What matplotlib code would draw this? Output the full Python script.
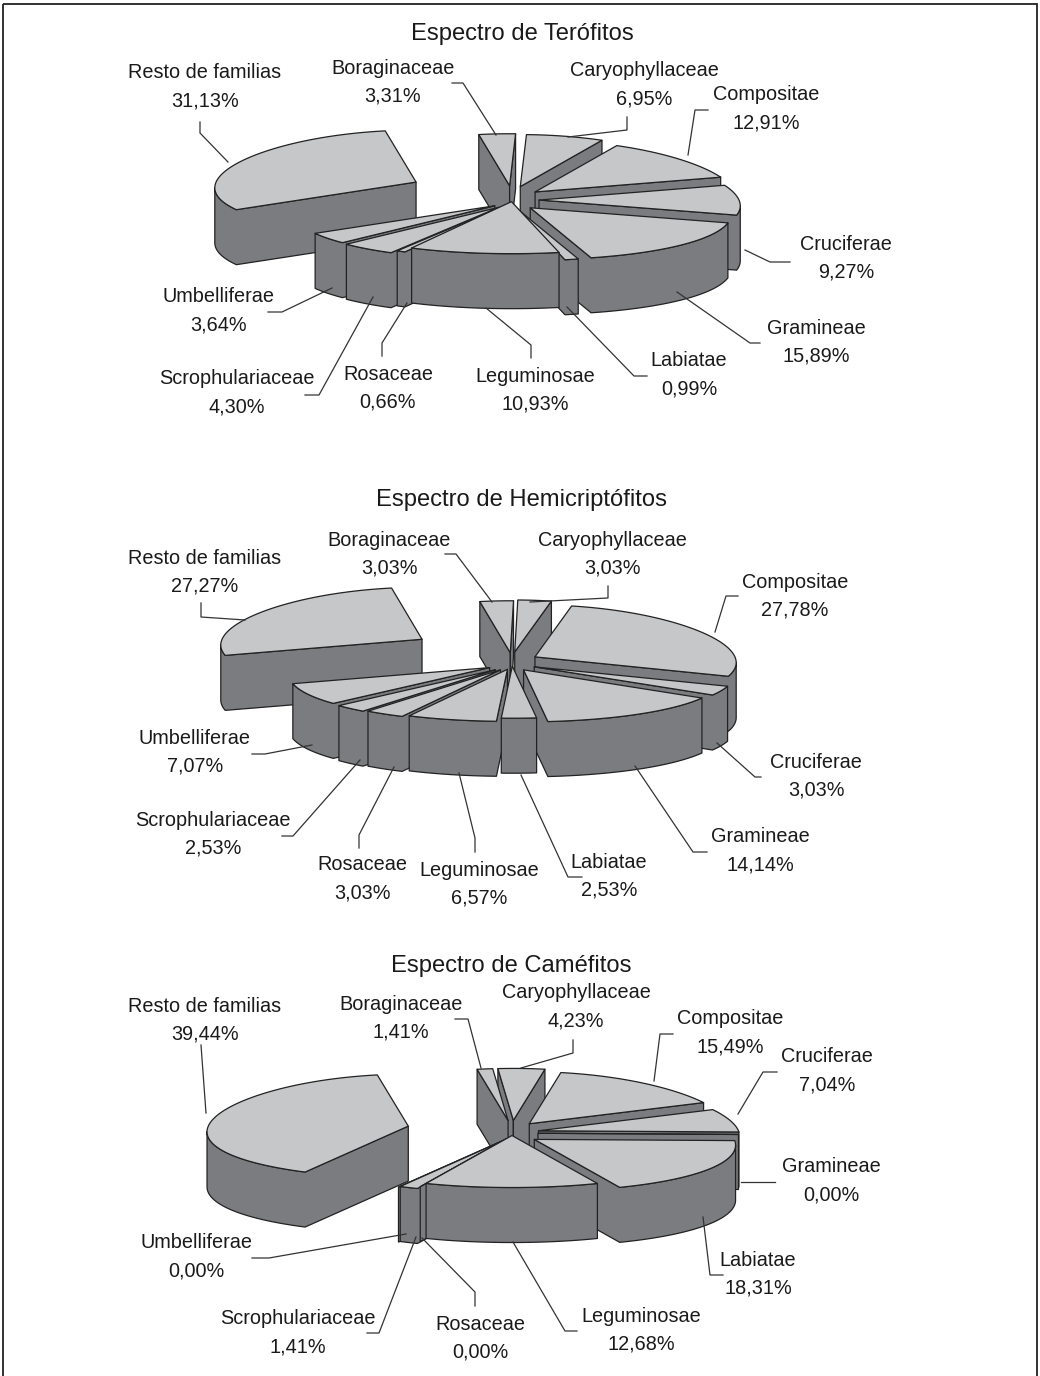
import numpy as np
import matplotlib
matplotlib.use("Agg")
import matplotlib.pyplot as plt
from matplotlib.patches import Polygon, Rectangle

plt.rcParams['font.family'] = ['Liberation Sans', 'DejaVu Sans']

# ── DATOS ────────────────────────────────────────────────────
familias = ["Caryophyllaceae", "Compositae", "Cruciferae", "Gramineae", "Labiatae",
            "Leguminosae", "Rosaceae", "Scrophulariaceae", "Umbelliferae",
            "Resto de familias", "Boraginaceae"]
terofitos = [6.95, 12.91, 9.27, 15.89, 0.99, 10.93, 0.66, 4.30, 3.64, 31.13, 3.31]
hemicript = [3.03, 27.78, 3.03, 14.14, 2.53, 6.57, 3.03, 2.53, 7.07, 27.27, 3.03]
camefitos = [4.23, 15.49, 7.04, 0.00, 18.31, 12.68, 0.00, 1.41, 0.00, 39.44, 1.41]

# ── MAQUETACION (pixeles) ────────────────────────────────────
EXPL_T = [33, 30, 27, 26, 22, 4, 15, 22, 22, 105, 34]
EXPL_H = [24, 26, 25, 22, 10, 18, 22, 25, 26, 105, 22]
EXPL_C = [30, 28, 27, 26, 27, 6, 15, 20, 22, 105, 30]

POS_T = [(644, 70), (766, 94), (846, 243), (816, 327), (689, 360), (535, 375),
         (388, 373), (237, 378), (219, 296), (205, 72), (393, 67)]
POS_H = [(612, 539), (795, 581), (816, 761), (760, 836), (609, 861), (479, 869),
         (362, 864), (213, 819), (195, 737), (205, 557), (389, 539)]
POS_C = [(576, 992), (730, 1018), (827, 1056), (831, 1166), (758, 1259), (641, 1315),
         (480, 1323), (298, 1318), (196, 1242), (205, 1005), (401, 1003)]

LEAD_T = [[(627, 117), (627, 130), (568, 137)],
          [(708, 110), (695, 110), (688, 155)],
          [(790, 262), (770, 262), (745, 250)],
          [(760, 343), (750, 343), (677, 292)],
          [(647, 376), (634, 376), (567, 307)],
          [(531, 358), (531, 345), (486, 308)],
          [(382, 356), (382, 343), (407, 303)],
          [(305, 395), (319, 395), (373, 297)],
          [(268, 312), (282, 312), (332, 288)],
          [(200, 122), (200, 133), (228, 162)],
          [(452, 83), (463, 83), (496, 135)]]
LEAD_H = [[(608, 586), (608, 598), (530, 602)],
          [(738, 596), (726, 596), (715, 632)],
          [(761, 777), (755, 777), (717, 743)],
          [(707, 852), (693, 852), (635, 766)],
          [(582, 877), (568, 877), (521, 775)],
          [(475, 852), (475, 838), (459, 773)],
          [(359, 848), (359, 835), (394, 767)],
          [(282, 836), (293, 836), (360, 760)],
          [(252, 754), (265, 754), (312, 745)],
          [(201, 603), (201, 617), (245, 620)],
          [(445, 554), (456, 554), (492, 602)]]
LEAD_C = [[(573, 1040), (573, 1053), (521, 1068)],
          [(673, 1034), (660, 1034), (654, 1081)],
          [(777, 1072), (763, 1072), (738, 1114)],
          [(775, 1182), (741, 1182)],
          [(723, 1275), (710, 1275), (703, 1217)],
          [(577, 1331), (565, 1331), (513, 1242)],
          [(475, 1306), (475, 1292), (422, 1238)],
          [(367, 1333), (379, 1333), (416, 1237)],
          [(252, 1258), (269, 1258), (406, 1234)],
          [(201, 1045), (206, 1113)],
          [(455, 1019), (468, 1019), (481, 1068)]]

C_TOP  = "#c6c7c9"
C_SIDE = "#7b7c80"
C_EDGE = "#222222"
RX, RY, DEPTH, PERSP = 200, 52, 55, 0.113
FS = 14.3


def rim(theta):
    x = RX * np.sin(theta) * (1 - PERSP * np.cos(theta))
    y = -RY * np.cos(theta)
    return x, y


def draw_pie(ax, values, explode, cx, cy, rot, title, title_xy, pos, leaders):
    cum = np.concatenate([[0], np.cumsum(values)]) / 100 * 360 + rot
    wedges = []
    for i in range(len(values)):
        a1, a2 = np.radians(cum[i]), np.radians(cum[i + 1])
        mid = (a1 + a2) / 2
        tx = cx + explode[i] * np.sin(mid)
        ty = cy - 0.42 * explode[i] * np.cos(mid)
        ang = np.linspace(a1, a2, max(2, int(cum[i + 1] - cum[i]) + 2))
        rx, ry = rim(ang)
        px = np.concatenate([[tx], tx + rx])
        py = np.concatenate([[ty], ty + ry])
        wedges.append((abs(np.degrees(mid) % 360 - 180), px, py))

    # de atras hacia delante
    wedges.sort(key=lambda w: -w[0])
    for n, (_, px, py) in enumerate(wedges):
        z = 2 + n
        # paredes: solo las aristas que miran al observador
        xs = np.append(px, px[0])
        ys = np.append(py, py[0])
        run = []
        runs = []
        for k in range(len(xs) - 1):
            if xs[k + 1] - xs[k] < 0:
                if not run:
                    run = [k]
                run.append(k + 1)
            elif run:
                runs.append(run)
                run = []
        if run:
            runs.append(run)
        for run in runs:
            rx_, ry_ = xs[run], ys[run]
            wall = np.column_stack([np.concatenate([rx_, rx_[::-1]]),
                                    np.concatenate([ry_, ry_[::-1] + DEPTH])])
            ax.add_patch(Polygon(wall, closed=True, fc=C_SIDE, ec=C_EDGE, lw=0.9, zorder=z,
                                 joinstyle="round"))
        ax.add_patch(Polygon(np.column_stack([px, py]), closed=True, fc=C_TOP, ec=C_EDGE,
                             lw=0.9, zorder=z, joinstyle="round"))

    ax.text(title_xy[0], title_xy[1] + 1, title, ha="center", va="center", fontsize=17.1,
            color="#1a1a1a", zorder=50)
    for i, fam in enumerate(familias):
        val = f"{values[i]:.2f}".replace(".", ",") + "%"
        ax.text(pos[i][0], pos[i][1] + 1, fam, ha="center", va="center", fontsize=FS,
                color="#1a1a1a", zorder=50)
        ax.text(pos[i][0], pos[i][1] + 29, val, ha="center", va="center", fontsize=FS,
                color="#1a1a1a", zorder=50)
        lx, ly = zip(*leaders[i])
        ax.plot(lx, ly, color="#333333", lw=0.9, zorder=40)


fig = plt.figure(figsize=(10.4, 13.76), dpi=100, facecolor="white")
ax = fig.add_axes([0, 0, 1, 1])
ax.set_xlim(0, 1040)
ax.set_ylim(1376, 0)
ax.axis("off")

# marco sin linea inferior
ax.add_patch(Rectangle((3, 4), 1034, 1400, fc="none", ec="#222222", lw=1.3, zorder=60))

draw_pie(ax, terofitos, EXPL_T, 512, 200, 2, "Espectro de Terófitos", (522, 33), POS_T, LEAD_T)
draw_pie(ax, hemicript, EXPL_H, 512, 662, 1, "Espectro de Hemicriptófitos", (521, 499), POS_H, LEAD_H)
draw_pie(ax, camefitos, EXPL_C, 512, 1133, -5, "Espectro de Caméfitos", (511, 965), POS_C, LEAD_C)

fig.savefig("out.png", dpi=100)
